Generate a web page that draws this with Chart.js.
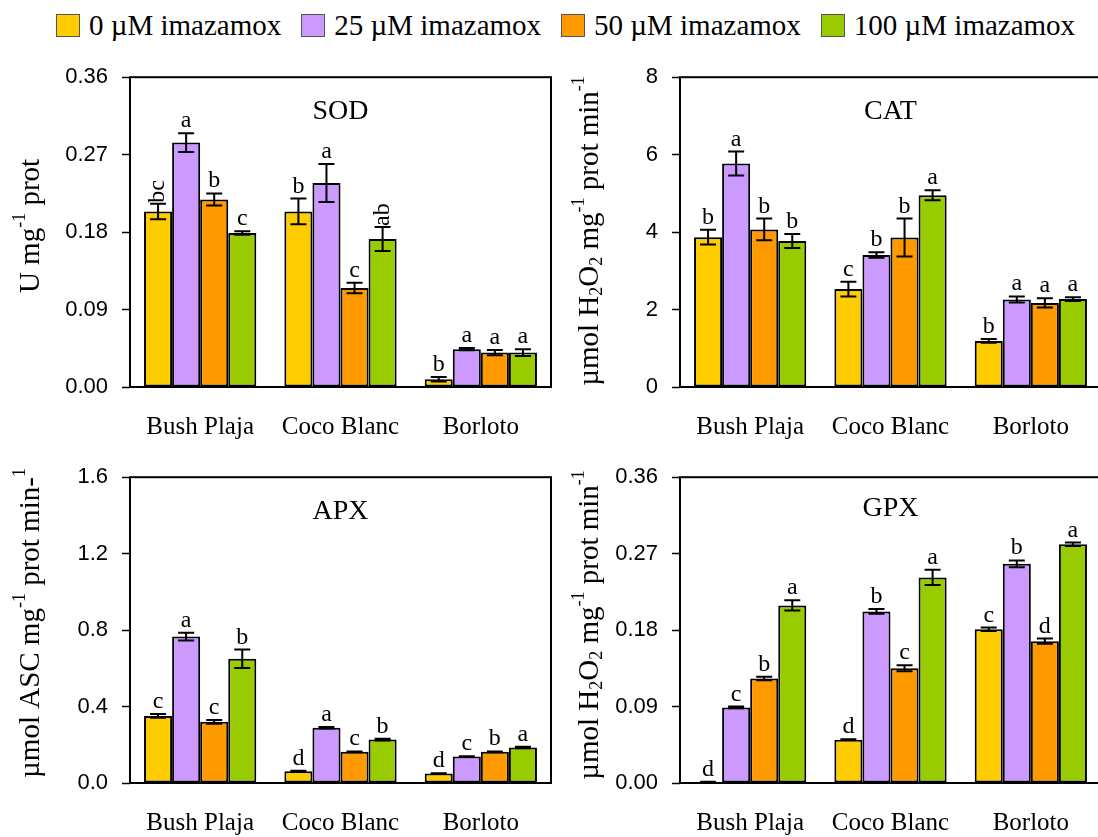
<!DOCTYPE html>
<html>
<head>
<meta charset="utf-8">
<script src="https://cdn.jsdelivr.net/npm/chart.js@4"></script>
<style>
  html, body { margin: 0; padding: 0; background: #fff; }
  body { width: 1098px; height: 837px; overflow: hidden; position: relative; }
  .legend {
    position: absolute; left: 56px; top: 8px; display: flex; align-items: center; gap: 20px;
    font-family: "Liberation Serif", "Times New Roman", serif; font-size: 29px; line-height: 34px; color: #000;
  }
  .legend span { display: flex; align-items: center; gap: 9px; white-space: nowrap; }
  .legend i { display: inline-block; width: 22px; height: 21px; border: 1px solid #555; }
  canvas { position: absolute; }
</style>
</head>
<body>
<div class="legend" id="legend"></div>
<canvas id="sod" width="560" height="400" style="left:0;top:50px"></canvas>
<canvas id="cat" width="560" height="400" style="left:560px;top:50px"></canvas>
<canvas id="apx" width="560" height="387" style="left:0;top:450px"></canvas>
<canvas id="gpx" width="560" height="387" style="left:560px;top:450px"></canvas>
<script>
const cultivars = ["Bush Plaja", "Coco Blanc", "Borloto"];
const doses = ["0 µM imazamox", "25 µM imazamox", "50 µM imazamox", "100 µM imazamox"];
const doseColors = ["#FFCC00", "#CC99FF", "#FF9900", "#99CC00"];

// one row per dose, one value per cultivar
const sodMean = [[0.204, 0.204, 0.009], [0.284, 0.237, 0.044], [0.218, 0.115, 0.040], [0.179, 0.172, 0.040]];
const sodErr = [[0.009, 0.015, 0.0025], [0.011, 0.022, 0.0014], [0.007, 0.006, 0.003], [0.002, 0.014, 0.004]];
const sodLetters = [["bc", "b", "b"], ["a", "a", "a"], ["b", "c", "a"], ["c", "ab", "a"]];
const sodTicks = [0, 0.09, 0.18, 0.27, 0.36];

const catMean = [[3.87, 2.53, 1.19], [5.77, 3.41, 2.26], [4.07, 3.86, 2.17], [3.77, 4.95, 2.27]];
const catErr = [[0.19, 0.19, 0.05], [0.31, 0.07, 0.08], [0.28, 0.49, 0.12], [0.18, 0.13, 0.05]];
const catLetters = [["b", "c", "b"], ["a", "b", "a"], ["b", "b", "a"], ["b", "a", "a"]];
const catTicks = [0, 2, 4, 6, 8];

const apxMean = [[0.351, 0.062, 0.050], [0.766, 0.289, 0.138], [0.320, 0.163, 0.163], [0.650, 0.227, 0.186]];
const apxErr = [[0.010, 0.002, 0.001], [0.020, 0.004, 0.002], [0.010, 0.002, 0.002], [0.048, 0.004, 0.004]];
const apxLetters = [["c", "d", "d"], ["a", "a", "c"], ["c", "c", "b"], ["b", "b", "a"]];
const apxTicks = [0, 0.4, 0.8, 1.2, 1.6];

const gpxMean = [[0.001, 0.051, 0.181], [0.089, 0.202, 0.258], [0.123, 0.135, 0.167], [0.209, 0.242, 0.281]];
const gpxErr = [[0.0005, 0.0005, 0.002], [0.001, 0.0027, 0.004], [0.002, 0.0035, 0.003], [0.006, 0.009, 0.002]];
const gpxLetters = [["d", "d", "c"], ["c", "b", "b"], ["b", "c", "d"], ["a", "a", "a"]];
const gpxTicks = [0, 0.09, 0.18, 0.27, 0.36];

const serif = '"Liberation Serif", "Times New Roman", serif';
const sans = '"Liberation Sans", Arial, sans-serif';

// legend row
const legend = document.getElementById("legend");
doses.forEach((d, i) => {
  const item = document.createElement("span");
  const box = document.createElement("i");
  box.style.background = doseColors[i];
  item.appendChild(box);
  item.appendChild(document.createTextNode(d));
  legend.appendChild(item);
});

// rotated axis title with super/subscripts
const drawRich = (ctx, parts, size) => {
  const fontOf = (p) => `${p.sup || p.sub ? Math.round(size * 0.62) : size}px ${serif}`;
  let total = 0;
  parts.forEach((p) => { ctx.font = fontOf(p); total += ctx.measureText(p.t).width; });
  let x = -total / 2;
  parts.forEach((p) => {
    ctx.font = fontOf(p);
    const dy = p.sup ? -size * 0.36 : p.sub ? size * 0.24 : 0;
    ctx.fillText(p.t, x, dy);
    x += ctx.measureText(p.t).width;
  });
};

const panelPlugin = {
  id: "panelExtras",
  afterDatasetsDraw(chart, args, opts) {
    const { ctx, chartArea: a, scales } = chart;
    const y = scales.y;
    ctx.save();
    ctx.strokeStyle = "#000";
    ctx.fillStyle = "#000";

    // error bars and letters
    chart.data.datasets.forEach((ds, di) => {
      const meta = chart.getDatasetMeta(di);
      meta.data.forEach((bar, i) => {
        const v = ds.data[i], e = ds.errors[i];
        const top = y.getPixelForValue(v + e), bot = y.getPixelForValue(v - e);
        ctx.lineWidth = 2;
        ctx.beginPath();
        ctx.moveTo(bar.x, top); ctx.lineTo(bar.x, bot);
        ctx.moveTo(bar.x - 8, top); ctx.lineTo(bar.x + 8, top);
        ctx.moveTo(bar.x - 8, bot); ctx.lineTo(bar.x + 8, bot);
        ctx.stroke();

        const txt = ds.letters[i];
        ctx.font = `24px ${serif}`;
        if (txt.length > 1) {
          // two-letter groups stand upright along the bar
          ctx.save();
          ctx.translate(bar.x, top - 1);
          ctx.rotate(-Math.PI / 2);
          ctx.textAlign = "left";
          ctx.textBaseline = "middle";
          ctx.fillText(txt, 0, 0);
          ctx.restore();
        } else {
          ctx.textAlign = "center";
          ctx.textBaseline = "alphabetic";
          ctx.fillText(txt, bar.x, top - 6);
        }
      });
    });

    // frame
    ctx.lineWidth = 2;
    ctx.strokeRect(a.left, a.top, a.right - a.left, a.bottom - a.top);

    // enzyme name
    ctx.font = `28px ${serif}`;
    ctx.textAlign = "center";
    ctx.textBaseline = "middle";
    ctx.fillText(opts.name, (a.left + a.right) / 2, a.top + opts.nameDy);

    // y axis title
    ctx.save();
    ctx.translate(opts.titleX, opts.titleY);
    ctx.rotate(-Math.PI / 2);
    ctx.textAlign = "left";
    ctx.textBaseline = "middle";
    drawRich(ctx, opts.title, 29);
    ctx.restore();

    ctx.restore();
  },
};

const makePanel = (id, mean, err, letters, ticks, decimals, p) => {
  new Chart(document.getElementById(id), {
    type: "bar",
    data: {
      labels: cultivars,
      datasets: doses.map((d, i) => ({
        label: d,
        data: mean[i],
        errors: err[i],
        letters: letters[i],
        backgroundColor: doseColors[i],
        borderColor: "#000",
        borderWidth: 2,
        borderSkipped: false,
        categoryPercentage: 0.8,
        barPercentage: 1.0,
      })),
    },
    options: {
      responsive: false,
      animation: false,
      layout: { padding: { left: 0, top: p.padT, right: p.padR, bottom: 0 } },
      plugins: {
        legend: { display: false },
        tooltip: { enabled: false },
        panelExtras: { name: p.name, nameDy: p.nameDy, title: p.title, titleX: p.titleX, titleY: p.titleY },
      },
      scales: {
        x: {
          grid: { display: false },
          border: { display: false },
          ticks: { color: "#000", font: { family: serif, size: 25 }, padding: 17, maxRotation: 0 },
          afterFit: (s) => { s.height = p.xH; },
        },
        y: {
          min: ticks[0],
          max: ticks[ticks.length - 1],
          afterBuildTicks: (s) => { s.ticks = ticks.map((v) => ({ value: v })); },
          grid: { drawOnChartArea: false, drawTicks: true, tickLength: 8, tickColor: "#000", tickWidth: 1.5 },
          border: { display: false },
          ticks: {
            color: "#000",
            font: { family: sans, size: 22 },
            padding: 14,
            callback: (v) => Number(v).toFixed(decimals),
          },
          afterFit: (s) => { s.width = p.yW; },
        },
      },
    },
    plugins: [panelPlugin],
  });
};

const sup = (t) => ({ t, sup: true });
const sub = (t) => ({ t, sub: true });

makePanel("sod", sodMean, sodErr, sodLetters, sodTicks, 2, {
  padT: 27, padR: 9, xH: 63, yW: 130, name: "SOD", nameDy: 34, titleX: 31, titleY: 176,
  title: [{ t: "U mg" }, sup("-1"), { t: " prot" }],
});
makePanel("cat", catMean, catErr, catLetters, catTicks, 0, {
  padT: 27, padR: 19, xH: 63, yW: 120, name: "CAT", nameDy: 34, titleX: 30, titleY: 181,
  title: [{ t: "µmol H" }, sub("2"), { t: "O" }, sub("2"), { t: " mg" }, sup("-1"), { t: " prot min" }, sup("-1")],
});
makePanel("apx", apxMean, apxErr, apxLetters, apxTicks, 1, {
  padT: 23, padR: 9, xH: 54, yW: 130, name: "APX", nameDy: 34, titleX: 31, titleY: 173,
  title: [{ t: "µmol ASC mg" }, sup("-1"), { t: " prot min-" }, sup("1")],
});
makePanel("gpx", gpxMean, gpxErr, gpxLetters, gpxTicks, 2, {
  padT: 23, padR: 19, xH: 54, yW: 120, name: "GPX", nameDy: 31, titleX: 30, titleY: 175,
  title: [{ t: "µmol H" }, sub("2"), { t: "O" }, sub("2"), { t: " mg" }, sup("-1"), { t: " prot min" }, sup("-1")],
});
</script>
</body>
</html>
